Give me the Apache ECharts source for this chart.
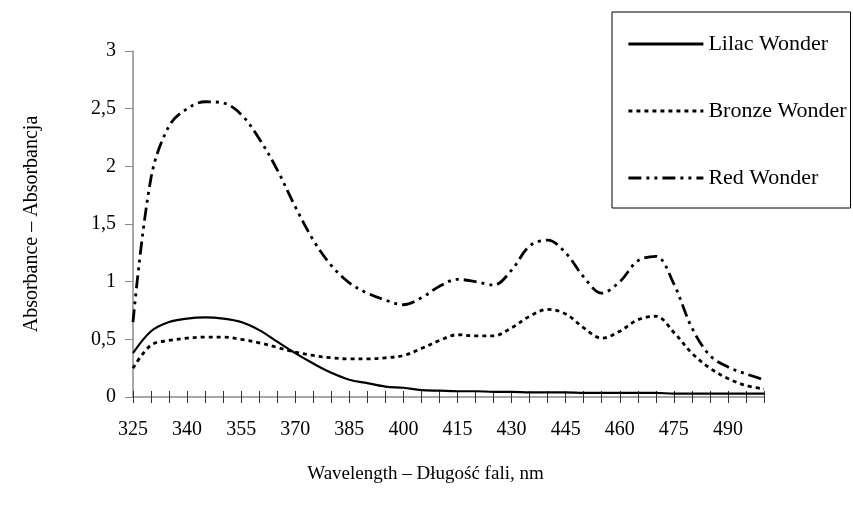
<!DOCTYPE html>
<html>
<head>
<meta charset="utf-8">
<script src="https://cdn.jsdelivr.net/npm/echarts@6/dist/echarts.min.js"></script>
<style>html,body{margin:0;padding:0;background:#fff;}#c{width:853px;height:506px;}</style>
</head>
<body>
<div id="c"></div>
<script>
var wavelengths = ['325','330','335','340','345','350','355','360','365','370','375','380','385','390','395','400','405','410','415','420','425','430','435','440','445','450','455','460','465','470','475','480','485','490','495','500'];
var lilacWonder = [0.38,0.57,0.65,0.68,0.69,0.68,0.65,0.58,0.48,0.38,0.29,0.21,0.15,0.12,0.09,0.08,0.06,0.055,0.05,0.05,0.045,0.045,0.04,0.04,0.04,0.035,0.035,0.035,0.035,0.035,0.03,0.03,0.03,0.03,0.03,0.03];
var bronzeWonder = [0.25,0.45,0.49,0.51,0.52,0.52,0.50,0.47,0.43,0.39,0.36,0.34,0.33,0.33,0.34,0.36,0.42,0.49,0.54,0.53,0.53,0.60,0.70,0.76,0.72,0.60,0.51,0.57,0.67,0.70,0.56,0.38,0.25,0.16,0.10,0.07];
var redWonder = [0.65,1.90,2.35,2.50,2.56,2.55,2.45,2.24,1.97,1.65,1.36,1.14,0.99,0.90,0.84,0.80,0.86,0.96,1.02,1.00,0.97,1.10,1.31,1.36,1.25,1.04,0.90,1.00,1.18,1.22,0.98,0.60,0.36,0.26,0.20,0.15];
var seriesNames = ['Lilac Wonder','Bronze Wonder','Red Wonder'];
var xTitle = 'Wavelength – Długość fali, nm';
var yTitle = 'Absorbance – Absorbancja';

var FONT = 'Liberation Serif';
var chart = echarts.init(document.getElementById('c'), null, {renderer: 'canvas'});
var axisGray = '#8a8a8a';
chart.setOption({
  animation: false,
  backgroundColor: '#fff',
  textStyle: {fontFamily: FONT, color: '#000'},
  grid: {left: 133, right: 89, top: 51, bottom: 109, containLabel: false},
  legend: {
    orient: 'vertical', left: 612, top: 12,
    padding: [20, 4, 18, 15],
    borderColor: '#000', borderWidth: 1,
    itemWidth: 75, itemHeight: 14, itemGap: 43,
    itemStyle: {color: 'rgba(0,0,0,0)', borderColor: 'rgba(0,0,0,0)', borderWidth: 0},
    lineStyle: {width: 2.8},
    textStyle: {fontFamily: FONT, fontSize: 22, color: '#000', lineHeight: 24},
    data: seriesNames
  },
  xAxis: [{
    type: 'category', data: wavelengths, boundaryGap: false, position: 'bottom',
    axisLine: {lineStyle: {color: axisGray, width: 1.5}},
    axisTick: {show: true, interval: 0, length: 6, lineStyle: {color: '#333', width: 1}},
    axisLabel: {interval: 2, margin: 23, fontFamily: FONT, fontSize: 20, color: '#000'},
    name: xTitle, nameLocation: 'middle', nameGap: 68,
    nameTextStyle: {fontFamily: FONT, fontSize: 19, color: '#000', padding: [0, 46, 0, 0]},
    splitLine: {show: false}
  }, {
    type: 'category', data: wavelengths, boundaryGap: false, position: 'bottom',
    axisLine: {show: false},
    axisTick: {show: true, inside: true, interval: 0, length: 6, lineStyle: {color: '#333', width: 1}},
    axisLabel: {show: false},
    splitLine: {show: false}
  }],
  yAxis: {
    type: 'value', min: 0, max: 3, interval: 0.5,
    axisLine: {show: true, lineStyle: {color: axisGray, width: 1.5}},
    axisTick: {show: true, length: 8, lineStyle: {color: axisGray, width: 1}},
    axisLabel: {margin: 17, fontFamily: FONT, fontSize: 20, color: '#000',
      formatter: function (v) { return String(v).replace('.', ','); }},
    splitLine: {show: false},
    name: yTitle, nameLocation: 'middle', nameGap: 91, nameRotate: 90,
    nameTextStyle: {fontFamily: FONT, fontSize: 20, color: '#000'}
  },
  series: [{
    name: seriesNames[0], type: 'line', data: lilacWonder, xAxisIndex: 0,
    smooth: 0.35, symbol: 'none', z: 3,
    lineStyle: {color: '#000', width: 2.2, type: 'solid'},
    itemStyle: {color: '#000'}
  }, {
    name: seriesNames[1], type: 'line', data: bronzeWonder, xAxisIndex: 0,
    smooth: 0.35, symbol: 'none', z: 3,
    lineStyle: {color: '#000', width: 2.8, type: [4, 4]},
    itemStyle: {color: '#000'}
  }, {
    name: seriesNames[2], type: 'line', data: redWonder, xAxisIndex: 0,
    smooth: 0.35, symbol: 'none', z: 3,
    lineStyle: {color: '#000', width: 2.8, type: [13, 5, 3, 5, 3, 5]},
    itemStyle: {color: '#000'}
  }]
});
</script>
</body>
</html>
